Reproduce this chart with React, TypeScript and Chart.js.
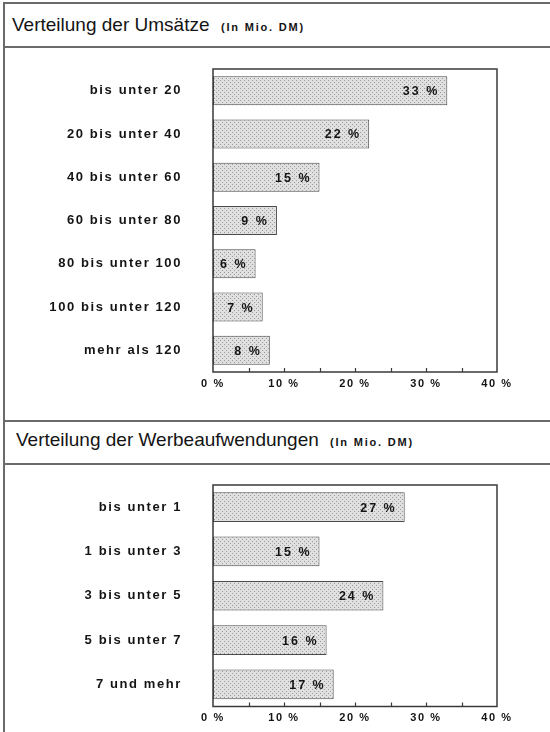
import React, { useEffect, useRef } from "react";
import { Chart, registerables } from "chart.js";

Chart.register(...registerables);

// ---------- data ----------
const umsatzCategories = [
  "bis unter 20",
  "20 bis unter 40",
  "40 bis unter 60",
  "60 bis unter 80",
  "80 bis unter 100",
  "100 bis unter 120",
  "mehr als 120",
];
const umsatzValues = [33, 22, 15, 9, 6, 7, 8];

const werbeCategories = [
  "bis unter 1",
  "1 bis unter 3",
  "3 bis unter 5",
  "5 bis unter 7",
  "7 und mehr",
];
const werbeValues = [27, 15, 24, 16, 17];

const axisMin = 0;
const axisMax = 40;
const labelStep = 10;
const minorStep = 5;

const titleUmsatz = "Verteilung der Umsätze";
const titleWerbe = "Verteilung der Werbeaufwendungen";
const unitNote = "(In Mio. DM)";

// ---------- styles ----------
const FONT = '"Liberation Sans", Arial, Helvetica, sans-serif';
const TEXT = "#141414";
const LINE = "#6a6a6a";

function makePattern(ctx: CanvasRenderingContext2D) {
  const c = document.createElement("canvas");
  c.width = 4;
  c.height = 4;
  const g = c.getContext("2d")!;
  g.fillStyle = "#e0e0e0";
  g.fillRect(0, 0, 4, 4);
  g.fillStyle = "#9a9a9a";
  g.fillRect(0, 0, 1, 1);
  g.fillRect(2, 2, 1, 1);
  return ctx.createPattern(c, "repeat")!;
}

const decorPlugin = {
  id: "decor",
  beforeDraw(chart: any) {
    (chart.ctx as any).letterSpacing = "1.6px";
  },
  afterDatasetsDraw(chart: any) {
    const { ctx, chartArea: a, scales } = chart;
    // value labels inside bars
    ctx.save();
    ctx.font = `bold 12.5px ${FONT}`;
    ctx.fillStyle = TEXT;
    ctx.textAlign = "right";
    ctx.textBaseline = "middle";
    (ctx as any).letterSpacing = "2px";
    const meta = chart.getDatasetMeta(0);
    meta.data.forEach((bar: any, i: number) => {
      const v = chart.data.datasets[0].data[i];
      ctx.fillText(`${v} %`, bar.x - 8, bar.y + 1);
    });
    ctx.restore();
    // plot frame
    ctx.save();
    ctx.strokeStyle = "#3a3a3a";
    ctx.lineWidth = 1.5;
    ctx.strokeRect(a.left, a.top, a.right - a.left, a.bottom - a.top);
    // tick marks pointing inward
    ctx.beginPath();
    const xs = scales.x;
    for (let v = axisMin + minorStep; v < axisMax; v += minorStep) {
      const px = Math.round(xs.getPixelForValue(v)) + 0.5;
      ctx.moveTo(px, a.bottom);
      ctx.lineTo(px, a.bottom - 4);
    }
    ctx.lineWidth = 1.2;
    ctx.stroke();
    ctx.restore();
  },
  afterDraw(chart: any) {
    (chart.ctx as any).letterSpacing = "0px";
  },
};

type SectionProps = {
  categories: string[];
  values: number[];
  top: number;
  height: number;
  plotTop: number;
  xHeight: number;
};

function BarSection({ categories, values, top, height, plotTop, xHeight }: SectionProps) {
  const ref = useRef<HTMLCanvasElement | null>(null);
  useEffect(() => {
    const canvas = ref.current!;
    const ctx = canvas.getContext("2d")!;
    const chart = new Chart(ctx, {
      type: "bar",
      data: {
        labels: categories,
        datasets: [
          {
            data: values,
            backgroundColor: makePattern(ctx) as any,
            borderColor: "#4a4a4a",
            borderWidth: 1,
            borderSkipped: false,
            barPercentage: 0.67,
            categoryPercentage: 1,
          },
        ],
      },
      options: {
        responsive: false,
        animation: false,
        indexAxis: "y",
        layout: { padding: { left: 0, right: 53, top: plotTop, bottom: 0 } },
        plugins: {
          legend: { display: false },
          tooltip: { enabled: false },
          title: { display: false },
        },
        scales: {
          x: {
            min: axisMin,
            max: axisMax,
            ticks: {
              stepSize: labelStep,
              callback: (v: any) => `${v} %`,
              font: { family: FONT, size: 11, weight: "bold" },
              color: TEXT,
              padding: 5,
              maxRotation: 0,
              autoSkip: false,
            },
            grid: { display: false, drawTicks: false },
            border: { display: false },
            afterFit: (s: any) => {
              s.height = xHeight;
              s.paddingLeft = 0;
              s.paddingRight = 0;
              s.paddingTop = 0;
              s.paddingBottom = 0;
            },
          },
          y: {
            ticks: {
              font: { family: FONT, size: 13, weight: "bold" },
              color: TEXT,
              padding: 31,
              autoSkip: false,
            },
            grid: { display: false, drawTicks: false },
            border: { display: false },
            afterFit: (s: any) => {
              s.width = 213;
              s.paddingLeft = 0;
              s.paddingRight = 0;
              s.paddingTop = 0;
              s.paddingBottom = 0;
            },
          },
        },
      } as any,
      plugins: [decorPlugin as any],
    });
    return () => chart.destroy();
  }, []);
  return (
    <canvas
      ref={ref}
      width={550}
      height={height}
      style={{ position: "absolute", left: 0, top, width: 550, height }}
    />
  );
}

function HLine({ y }: { y: number }) {
  return (
    <div style={{ position: "absolute", left: 3, top: y, width: 560, height: 2, background: LINE }} />
  );
}

function Title({ text, left, baseline }: { text: string; left: number; baseline: number }) {
  return (
    <div
      style={{
        position: "absolute",
        left,
        top: baseline - 16,
        fontFamily: FONT,
        fontSize: 19,
        lineHeight: "19px",
        color: TEXT,
        whiteSpace: "nowrap",
      }}
    >
      {text}
    </div>
  );
}

function Note({ left, baseline }: { left: number; baseline: number }) {
  return (
    <div
      style={{
        position: "absolute",
        left,
        top: baseline - 9.5,
        fontFamily: FONT,
        fontSize: 11,
        fontWeight: "bold",
        letterSpacing: "1.8px",
        lineHeight: "11px",
        color: TEXT,
        whiteSpace: "nowrap",
      }}
    >
      {unitNote}
    </div>
  );
}

export default function App() {
  return (
    <div
      style={{
        position: "absolute",
        left: 0,
        top: 0,
        width: 550,
        height: 732,
        overflow: "hidden",
        background: "#ffffff",
      }}
    >
      {/* outer frame */}
      <div style={{ position: "absolute", left: 3, top: 2, width: 2, height: 740, background: LINE }} />
      <HLine y={2} />
      <HLine y={46} />
      <HLine y={420} />
      <HLine y={463} />

      <Title text={titleUmsatz} left={12} baseline={31} />
      <Note left={221} baseline={31.5} />
      <Title text={titleWerbe} left={16} baseline={446} />
      <Note left={330} baseline={446.5} />

      <BarSection
        categories={umsatzCategories}
        values={umsatzValues}
        top={48}
        height={372}
        plotTop={21}
        xHeight={48}
      />
      <BarSection
        categories={werbeCategories}
        values={werbeValues}
        top={465}
        height={267}
        plotTop={20}
        xHeight={25.5}
      />
    </div>
  );
}
